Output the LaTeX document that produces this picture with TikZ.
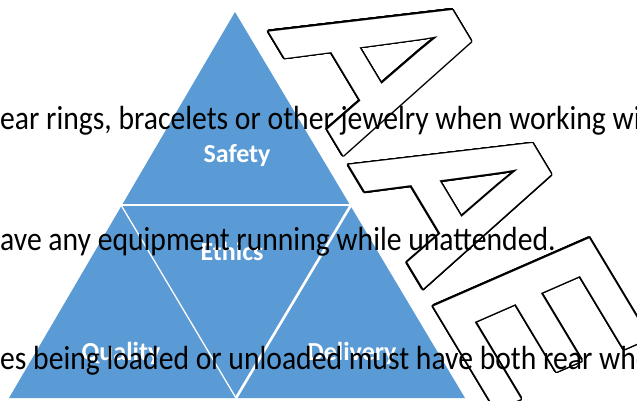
\documentclass[tikz,border=0pt]{standalone}
\usepackage{fontspec}
\setmainfont{Carlito}
\newfontfamily\wmfont{Liberation Sans}
\definecolor{pyrblue}{HTML}{5B9BD5}

\tikzset{
    lbl/.style={text=white, anchor=base, inner sep=0, font=\bfseries\fontsize{26}{26}\selectfont},
    txt/.style={anchor=base west, inner sep=0, font=\fontsize{33.5}{33.5}\selectfont, xscale=0.885, transform shape},
    wm/.style={anchor=base west, inner sep=0, font=\wmfont\bfseries\fontsize{245}{245}\selectfont,
               rotate=-59, xslant=0.13, xscale=0.88, transform shape}
}

\begin{document}
\begin{tikzpicture}[x=1pt, y=1pt]
    \useasboundingbox (0,0) rectangle (637,-401);
    \clip (0,0) rectangle (637,-401);

    % Pyramid: one blue triangle, cut in four by white lines
    \coordinate (T) at (235,-12);
    \coordinate (BL) at (9,-398);
    \coordinate (BR) at (465,-398);
    \coordinate (ML) at (121,-205);
    \coordinate (MR) at (351,-205);
    \coordinate (MB) at (236,-398);
    \fill[pyrblue] (T) -- (BL) -- (BR) -- cycle;
    \draw[white, line width=1.3pt] (ML) -- (MR);
    \draw[white, line width=1.3pt] (ML) -- (MB);
    \draw[white, line width=2.6pt] (MR) -- (MB); % the wider gap
    \node[lbl] (safety) at (237,-162) {Safety};
    \node[lbl] (ethics) at (232,-260) {Ethics};
    \node[lbl] (quality) at (121,-360) {Quality};
    \node[lbl] (delivery) at (352,-360) {Delivery};

    % Watermark: outlined letters (black copies round a white one)
    \foreach \a [count=\i] in {0,15,...,345}
        \node[shift={(\a:1.5)}, wm, text=black] (halo\i) at (266,-27) {AAE};
    \node[wm, text=white] (aae) at (266,-27) {AAE};

    % Text lines running across everything
    \node[txt] (line1) at (0,-130) {ear rings, bracelets or other jewelry when working wi};
    \node[txt] (line2) at (0,-250) {ave any equipment running while unattended.};
    \node[txt] (line3) at (0,-369) {es being loaded or unloaded must have both rear whe};
\end{tikzpicture}
\end{document}
